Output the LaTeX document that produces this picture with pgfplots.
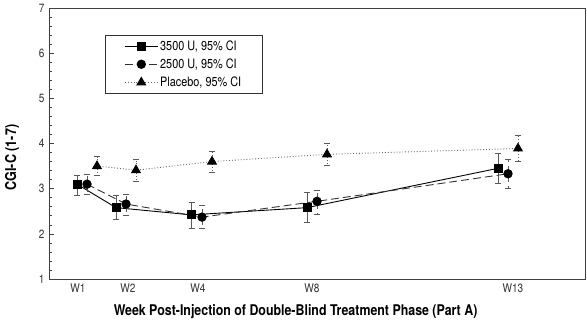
\documentclass[border=0pt]{standalone}
\usepackage{fontspec}
\setmainfont{TeX Gyre Heros}[FakeStretch=0.84]
\usepackage{pgfplots}
\pgfplotsset{compat=1.18}
\usepackage{pgfplotstable}

\pgfplotstableread{
x y ep em
77 3.10 0.20 0.24
116 2.58 0.28 0.25
191.5 2.42 0.28 0.29
307 2.58 0.33 0.32
498 3.45 0.33 0.33
}\dataA
\pgfplotstableread{
x y ep em
87 3.10 0.22 0.22
126 2.66 0.22 0.25
202 2.37 0.25 0.24
317 2.72 0.25 0.29
508 3.33 0.32 0.32
}\dataB
\pgfplotstableread{
x y ep em
97 3.50 0.21 0.21
136 3.41 0.25 0.25
212 3.60 0.23 0.23
327 3.76 0.24 0.24
518 3.89 0.30 0.29
}\dataC

\begin{document}
\begin{tikzpicture}
\begin{axis}[
  scale only axis,
  width=536bp, height=271bp,
  xmin=49, xmax=585, ymin=1, ymax=7,
  axis line style={draw=black!75, line width=0.8pt},
  xtick={78,128,198,312,513},
  xticklabels={W1,W2,W4,W8,W13},
  xtick style={draw=none},
  ytick={1,2,3,4,5,6,7},
  minor y tick num=4,
  ytick pos=left,
  major tick length=5bp,
  minor tick length=3bp,
  y tick style={draw=black!75, line width=0.6pt},
  ticklabel style={font=\fontsize{12}{14}\selectfont, text=black!80},
  /pgf/number format/assume math mode=true,
  yticklabel style={xshift=-1bp},
  xticklabel style={yshift=-1bp},
  xlabel={\bfseries Week Post-Injection of Double-Blind Treatment Phase (Part A)},
  xlabel style={at={(axis description cs:0.46,-0.122)}, anchor=center, font=\fontsize{14.8}{16}\selectfont},
  ylabel={\bfseries CGI-C (1-7)},
  ylabel style={at={(axis description cs:-0.069,0.448)}, anchor=center, font=\fontsize{15}{17}\selectfont},
  legend style={at={(axis description cs:0.1045,0.90)}, anchor=north west,
    draw=black!80, line width=0.8pt, font=\fontsize{13}{15}\selectfont,
    row sep=3bp, inner xsep=19bp, inner ysep=3bp},
  legend cell align=left,
  legend image code/.code={\draw[mark repeat=2,mark phase=2] plot coordinates {(0cm,0cm) (0.58cm,0cm) (1.16cm,0cm)};},
  error bars/y dir=both,
  error bars/y explicit,
  error bars/error bar style={draw=black!65, line width=0.7pt},
  error bars/error mark options={draw=black!65, line width=0.7pt, mark size=3bp, rotate=90},
]
\addplot[black, line width=0.9pt, mark=square*, mark size=4bp, mark options={solid, fill=black}]
  table[x=x, y=y, y error plus=ep, y error minus=em] {\dataA};
\addlegendentry{3500 U, 95\% CI\hspace{14bp}}
\addplot[black!80, line width=0.9pt, dash pattern=on 8pt off 4pt, mark=*, mark size=4.2bp, mark options={solid, fill=black, draw=black}]
  table[x=x, y=y, y error plus=ep, y error minus=em] {\dataB};
\addlegendentry{2500 U, 95\% CI}
\addplot[black!60, line width=0.9pt, dotted, mark=triangle*, mark size=5bp, mark options={solid, fill=black, draw=black}]
  table[x=x, y=y, y error plus=ep, y error minus=em] {\dataC};
\addlegendentry{Placebo, 95\% CI}
\end{axis}
\pgfresetboundingbox
\path[use as bounding box] (-49bp,-43bp) rectangle (538bp,279bp);
\end{tikzpicture}
\end{document}
